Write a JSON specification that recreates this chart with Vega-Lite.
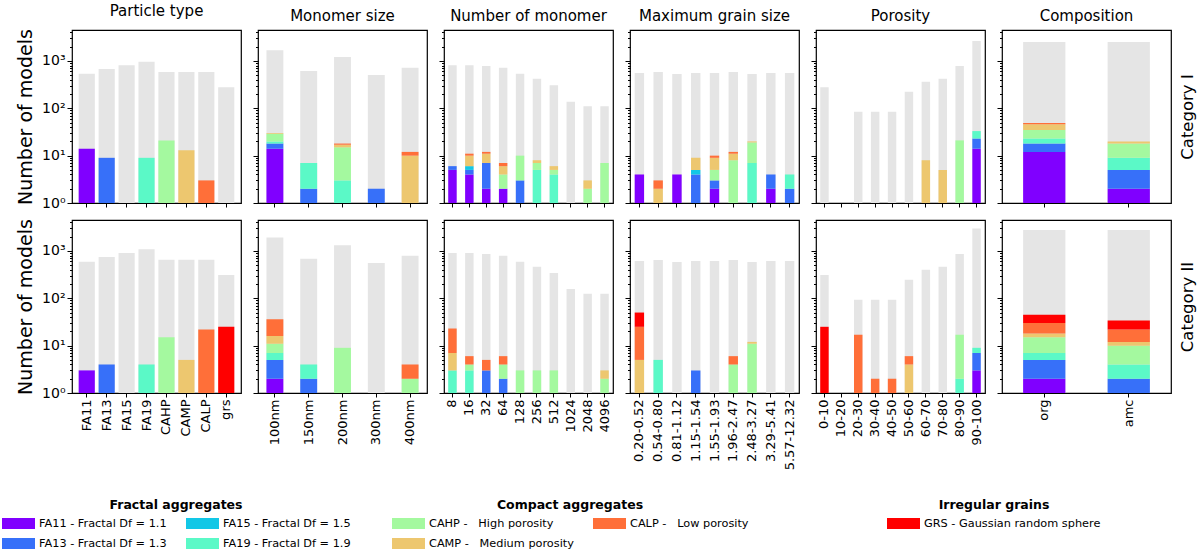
{
"$schema":"https://vega.github.io/schema/vega-lite/v6.json",
"autosize":{"type":"pad"},
"padding":{"left":2,"top":3,"right":2,"bottom":2},
"columns":6,
"spacing":17,
"bounds":"flush",
"resolve":{"scale":{"x":"independent","y":"independent","color":"independent"}},
"datasets":{
"types":[{"t":"FA11","k":1},{"t":"FA13","k":2},{"t":"FA15","k":3},{"t":"FA19","k":4},{"t":"CAHP","k":5},{"t":"CAMP","k":6},{"t":"CALP","k":7},{"t":"GRS","k":8}],
"tot":[
{"c":"I","p":"pt","x":"FA11","n":538},{"c":"I","p":"pt","x":"FA13","n":676},{"c":"I","p":"pt","x":"FA15","n":809},{"c":"I","p":"pt","x":"FA19","n":966},{"c":"I","p":"pt","x":"CAHP","n":584},{"c":"I","p":"pt","x":"CAMP","n":584},{"c":"I","p":"pt","x":"CALP","n":584},{"c":"I","p":"pt","x":"grs","n":277},
{"c":"I","p":"ms","x":"100nm","n":1680},{"c":"I","p":"ms","x":"150nm","n":613},{"c":"I","p":"ms","x":"200nm","n":1213},{"c":"I","p":"ms","x":"300nm","n":505},{"c":"I","p":"ms","x":"400nm","n":721},
{"c":"I","p":"nm","x":"8","n":809},{"c":"I","p":"nm","x":"16","n":809},{"c":"I","p":"nm","x":"32","n":782},{"c":"I","p":"nm","x":"64","n":721},{"c":"I","p":"nm","x":"128","n":538},{"c":"I","p":"nm","x":"256","n":422},{"c":"I","p":"nm","x":"512","n":305},{"c":"I","p":"nm","x":"1024","n":137},{"c":"I","p":"nm","x":"2048","n":111},{"c":"I","p":"nm","x":"4096","n":111},
{"c":"I","p":"mg","x":"0.20-0.52","n":556},{"c":"I","p":"mg","x":"0.54-0.80","n":584},{"c":"I","p":"mg","x":"0.81-1.12","n":530},{"c":"I","p":"mg","x":"1.15-1.54","n":556},{"c":"I","p":"mg","x":"1.55-1.93","n":556},{"c":"I","p":"mg","x":"1.96-2.47","n":584},{"c":"I","p":"mg","x":"2.48-3.27","n":530},{"c":"I","p":"mg","x":"3.29-5.41","n":556},{"c":"I","p":"mg","x":"5.57-12.32","n":556},
{"c":"I","p":"po","x":"0-10","n":277},{"c":"I","p":"po","x":"20-30","n":85},{"c":"I","p":"po","x":"30-40","n":85},{"c":"I","p":"po","x":"40-50","n":85},{"c":"I","p":"po","x":"50-60","n":224},{"c":"I","p":"po","x":"60-70","n":365},{"c":"I","p":"po","x":"70-80","n":422},{"c":"I","p":"po","x":"80-90","n":782},{"c":"I","p":"po","x":"90-100","n":2650},
{"c":"I","p":"co","x":"org","n":2523},{"c":"I","p":"co","x":"amc","n":2523},
{"c":"II","p":"pt","x":"FA11","n":593},{"c":"II","p":"pt","x":"FA13","n":745},{"c":"II","p":"pt","x":"FA15","n":906},{"c":"II","p":"pt","x":"FA19","n":1083},{"c":"II","p":"pt","x":"CAHP","n":655},{"c":"II","p":"pt","x":"CAMP","n":655},{"c":"II","p":"pt","x":"CALP","n":655},{"c":"II","p":"pt","x":"grs","n":310},
{"c":"II","p":"ms","x":"100nm","n":1914},{"c":"II","p":"ms","x":"150nm","n":687},{"c":"II","p":"ms","x":"200nm","n":1316},{"c":"II","p":"ms","x":"300nm","n":556},{"c":"II","p":"ms","x":"400nm","n":795},
{"c":"II","p":"nm","x":"8","n":906},{"c":"II","p":"nm","x":"16","n":906},{"c":"II","p":"nm","x":"32","n":863},{"c":"II","p":"nm","x":"64","n":795},{"c":"II","p":"nm","x":"128","n":593},{"c":"II","p":"nm","x":"256","n":465},{"c":"II","p":"nm","x":"512","n":342},{"c":"II","p":"nm","x":"1024","n":157},{"c":"II","p":"nm","x":"2048","n":125},{"c":"II","p":"nm","x":"4096","n":125},
{"c":"II","p":"mg","x":"0.20-0.52","n":613},{"c":"II","p":"mg","x":"0.54-0.80","n":644},{"c":"II","p":"mg","x":"0.81-1.12","n":584},{"c":"II","p":"mg","x":"1.15-1.54","n":613},{"c":"II","p":"mg","x":"1.55-1.93","n":613},{"c":"II","p":"mg","x":"1.96-2.47","n":644},{"c":"II","p":"mg","x":"2.48-3.27","n":584},{"c":"II","p":"mg","x":"3.29-5.41","n":613},{"c":"II","p":"mg","x":"5.57-12.32","n":613},
{"c":"II","p":"po","x":"0-10","n":310},{"c":"II","p":"po","x":"20-30","n":93},{"c":"II","p":"po","x":"30-40","n":93},{"c":"II","p":"po","x":"40-50","n":93},{"c":"II","p":"po","x":"50-60","n":247},{"c":"II","p":"po","x":"60-70","n":402},{"c":"II","p":"po","x":"70-80","n":465},{"c":"II","p":"po","x":"80-90","n":863},{"c":"II","p":"po","x":"90-100","n":2966},
{"c":"II","p":"co","x":"org","n":2780},{"c":"II","p":"co","x":"amc","n":2780}
],
"sub":[
{"c":"I","p":"pt","x":"FA11","t":"FA11","n":14},{"c":"I","p":"pt","x":"FA13","t":"FA13","n":9},{"c":"I","p":"pt","x":"FA15","t":"FA15","n":1},{"c":"I","p":"pt","x":"FA19","t":"FA19","n":9},{"c":"I","p":"pt","x":"CAHP","t":"CAHP","n":21},{"c":"I","p":"pt","x":"CAMP","t":"CAMP","n":13},{"c":"I","p":"pt","x":"CALP","t":"CALP","n":3},
{"c":"I","p":"ms","x":"100nm","t":"FA11","n":14},{"c":"I","p":"ms","x":"100nm","t":"FA13","n":4},{"c":"I","p":"ms","x":"100nm","t":"FA19","n":2},{"c":"I","p":"ms","x":"100nm","t":"CAHP","n":9},{"c":"I","p":"ms","x":"100nm","t":"CAMP","n":1},
{"c":"I","p":"ms","x":"150nm","t":"FA13","n":2},{"c":"I","p":"ms","x":"150nm","t":"FA19","n":5},
{"c":"I","p":"ms","x":"200nm","t":"FA19","n":3},{"c":"I","p":"ms","x":"200nm","t":"CAHP","n":12},{"c":"I","p":"ms","x":"200nm","t":"CAMP","n":2},{"c":"I","p":"ms","x":"200nm","t":"CALP","n":1},
{"c":"I","p":"ms","x":"300nm","t":"FA13","n":2},
{"c":"I","p":"ms","x":"400nm","t":"CAMP","n":10},{"c":"I","p":"ms","x":"400nm","t":"CALP","n":2},
{"c":"I","p":"nm","x":"8","t":"FA11","n":5},{"c":"I","p":"nm","x":"8","t":"FA13","n":1},
{"c":"I","p":"nm","x":"16","t":"FA11","n":4},{"c":"I","p":"nm","x":"16","t":"FA13","n":1},{"c":"I","p":"nm","x":"16","t":"FA15","n":1},{"c":"I","p":"nm","x":"16","t":"CAMP","n":4},{"c":"I","p":"nm","x":"16","t":"CALP","n":1},
{"c":"I","p":"nm","x":"32","t":"FA11","n":2},{"c":"I","p":"nm","x":"32","t":"FA13","n":5},{"c":"I","p":"nm","x":"32","t":"CAMP","n":4},{"c":"I","p":"nm","x":"32","t":"CALP","n":1},
{"c":"I","p":"nm","x":"64","t":"FA11","n":2},{"c":"I","p":"nm","x":"64","t":"CAHP","n":2},{"c":"I","p":"nm","x":"64","t":"CAMP","n":2},{"c":"I","p":"nm","x":"64","t":"CALP","n":1},
{"c":"I","p":"nm","x":"128","t":"FA13","n":3},{"c":"I","p":"nm","x":"128","t":"CAHP","n":7},
{"c":"I","p":"nm","x":"256","t":"FA19","n":5},{"c":"I","p":"nm","x":"256","t":"CAHP","n":2},{"c":"I","p":"nm","x":"256","t":"CAMP","n":1},
{"c":"I","p":"nm","x":"512","t":"FA19","n":4},{"c":"I","p":"nm","x":"512","t":"CAHP","n":1},{"c":"I","p":"nm","x":"512","t":"CAMP","n":1},
{"c":"I","p":"nm","x":"2048","t":"CAHP","n":2},{"c":"I","p":"nm","x":"2048","t":"CAMP","n":1},
{"c":"I","p":"nm","x":"4096","t":"CAHP","n":7},
{"c":"I","p":"mg","x":"0.20-0.52","t":"FA11","n":4},
{"c":"I","p":"mg","x":"0.54-0.80","t":"CAMP","n":2},{"c":"I","p":"mg","x":"0.54-0.80","t":"CALP","n":1},
{"c":"I","p":"mg","x":"0.81-1.12","t":"FA11","n":4},
{"c":"I","p":"mg","x":"1.15-1.54","t":"FA13","n":4},{"c":"I","p":"mg","x":"1.15-1.54","t":"FA15","n":1},{"c":"I","p":"mg","x":"1.15-1.54","t":"CAMP","n":4},
{"c":"I","p":"mg","x":"1.55-1.93","t":"FA11","n":2},{"c":"I","p":"mg","x":"1.55-1.93","t":"FA13","n":1},{"c":"I","p":"mg","x":"1.55-1.93","t":"CAHP","n":2},{"c":"I","p":"mg","x":"1.55-1.93","t":"CAMP","n":4},{"c":"I","p":"mg","x":"1.55-1.93","t":"CALP","n":1},
{"c":"I","p":"mg","x":"1.96-2.47","t":"CAHP","n":8},{"c":"I","p":"mg","x":"1.96-2.47","t":"CAMP","n":3},{"c":"I","p":"mg","x":"1.96-2.47","t":"CALP","n":1},
{"c":"I","p":"mg","x":"2.48-3.27","t":"FA19","n":7},{"c":"I","p":"mg","x":"2.48-3.27","t":"CAHP","n":12},{"c":"I","p":"mg","x":"2.48-3.27","t":"CAMP","n":1},
{"c":"I","p":"mg","x":"3.29-5.41","t":"FA11","n":2},{"c":"I","p":"mg","x":"3.29-5.41","t":"FA13","n":2},
{"c":"I","p":"mg","x":"5.57-12.32","t":"FA13","n":2},{"c":"I","p":"mg","x":"5.57-12.32","t":"FA19","n":2},
{"c":"I","p":"po","x":"60-70","t":"CAMP","n":8},{"c":"I","p":"po","x":"70-80","t":"CAMP","n":5},{"c":"I","p":"po","x":"80-90","t":"CAHP","n":21},
{"c":"I","p":"po","x":"90-100","t":"FA11","n":14},{"c":"I","p":"po","x":"90-100","t":"FA13","n":9},{"c":"I","p":"po","x":"90-100","t":"FA19","n":10},
{"c":"I","p":"co","x":"org","t":"FA11","n":12},{"c":"I","p":"co","x":"org","t":"FA13","n":6},{"c":"I","p":"co","x":"org","t":"FA19","n":5},{"c":"I","p":"co","x":"org","t":"CAHP","n":12},{"c":"I","p":"co","x":"org","t":"CAMP","n":11},{"c":"I","p":"co","x":"org","t":"CALP","n":3},
{"c":"I","p":"co","x":"amc","t":"FA11","n":2},{"c":"I","p":"co","x":"amc","t":"FA13","n":3},{"c":"I","p":"co","x":"amc","t":"FA19","n":4},{"c":"I","p":"co","x":"amc","t":"CAHP","n":9},{"c":"I","p":"co","x":"amc","t":"CAMP","n":2},
{"c":"II","p":"pt","x":"FA11","t":"FA11","n":3},{"c":"II","p":"pt","x":"FA13","t":"FA13","n":4},{"c":"II","p":"pt","x":"FA19","t":"FA19","n":4},{"c":"II","p":"pt","x":"CAHP","t":"CAHP","n":15},{"c":"II","p":"pt","x":"CAMP","t":"CAMP","n":5},{"c":"II","p":"pt","x":"CALP","t":"CALP","n":22},{"c":"II","p":"pt","x":"grs","t":"GRS","n":25},
{"c":"II","p":"ms","x":"100nm","t":"FA11","n":2},{"c":"II","p":"ms","x":"100nm","t":"FA13","n":3},{"c":"II","p":"ms","x":"100nm","t":"FA19","n":2},{"c":"II","p":"ms","x":"100nm","t":"CAHP","n":4},{"c":"II","p":"ms","x":"100nm","t":"CAMP","n":5},{"c":"II","p":"ms","x":"100nm","t":"CALP","n":20},
{"c":"II","p":"ms","x":"150nm","t":"FA13","n":2},{"c":"II","p":"ms","x":"150nm","t":"FA19","n":2},
{"c":"II","p":"ms","x":"200nm","t":"CAHP","n":9},
{"c":"II","p":"ms","x":"400nm","t":"CAHP","n":2},{"c":"II","p":"ms","x":"400nm","t":"CALP","n":2},
{"c":"II","p":"nm","x":"8","t":"FA19","n":3},{"c":"II","p":"nm","x":"8","t":"CAMP","n":4},{"c":"II","p":"nm","x":"8","t":"CALP","n":16},
{"c":"II","p":"nm","x":"16","t":"FA19","n":3},{"c":"II","p":"nm","x":"16","t":"CAHP","n":1},{"c":"II","p":"nm","x":"16","t":"CALP","n":2},
{"c":"II","p":"nm","x":"32","t":"FA13","n":3},{"c":"II","p":"nm","x":"32","t":"CALP","n":2},
{"c":"II","p":"nm","x":"64","t":"FA13","n":2},{"c":"II","p":"nm","x":"64","t":"CAHP","n":2},{"c":"II","p":"nm","x":"64","t":"CALP","n":2},
{"c":"II","p":"nm","x":"128","t":"CAHP","n":3},{"c":"II","p":"nm","x":"256","t":"CAHP","n":3},{"c":"II","p":"nm","x":"512","t":"CAHP","n":3},
{"c":"II","p":"nm","x":"4096","t":"CAHP","n":2},{"c":"II","p":"nm","x":"4096","t":"CAMP","n":1},
{"c":"II","p":"mg","x":"0.20-0.52","t":"CAMP","n":5},{"c":"II","p":"mg","x":"0.20-0.52","t":"CALP","n":20},{"c":"II","p":"mg","x":"0.20-0.52","t":"GRS","n":25},
{"c":"II","p":"mg","x":"0.54-0.80","t":"FA19","n":5},
{"c":"II","p":"mg","x":"1.15-1.54","t":"FA13","n":3},
{"c":"II","p":"mg","x":"1.96-2.47","t":"CAHP","n":4},{"c":"II","p":"mg","x":"1.96-2.47","t":"CALP","n":2},
{"c":"II","p":"mg","x":"2.48-3.27","t":"CAHP","n":11},{"c":"II","p":"mg","x":"2.48-3.27","t":"CAMP","n":1},
{"c":"II","p":"po","x":"0-10","t":"GRS","n":25},{"c":"II","p":"po","x":"20-30","t":"CALP","n":17},{"c":"II","p":"po","x":"30-40","t":"CALP","n":2},{"c":"II","p":"po","x":"40-50","t":"CALP","n":2},
{"c":"II","p":"po","x":"50-60","t":"CAMP","n":4},{"c":"II","p":"po","x":"50-60","t":"CALP","n":2},
{"c":"II","p":"po","x":"80-90","t":"FA19","n":2},{"c":"II","p":"po","x":"80-90","t":"CAHP","n":15},
{"c":"II","p":"po","x":"90-100","t":"FA11","n":3},{"c":"II","p":"po","x":"90-100","t":"FA13","n":4},{"c":"II","p":"po","x":"90-100","t":"FA19","n":2},
{"c":"II","p":"co","x":"org","t":"FA11","n":2},{"c":"II","p":"co","x":"org","t":"FA13","n":3},{"c":"II","p":"co","x":"org","t":"FA19","n":2},{"c":"II","p":"co","x":"org","t":"CAHP","n":8},{"c":"II","p":"co","x":"org","t":"CAMP","n":3},{"c":"II","p":"co","x":"org","t":"CALP","n":12},{"c":"II","p":"co","x":"org","t":"GRS","n":15},
{"c":"II","p":"co","x":"amc","t":"FA11","n":1},{"c":"II","p":"co","x":"amc","t":"FA13","n":1},{"c":"II","p":"co","x":"amc","t":"FA19","n":2},{"c":"II","p":"co","x":"amc","t":"CAHP","n":6},{"c":"II","p":"co","x":"amc","t":"CAMP","n":2},{"c":"II","p":"co","x":"amc","t":"CALP","n":10},{"c":"II","p":"co","x":"amc","t":"GRS","n":12}
]
},
"concat":[
{"width":169,"height":173,"title":"Particle type",
 "encoding":{"x":{"field":"x","type":"nominal","scale":{"domain":["FA11","FA13","FA15","FA19","CAHP","CAMP","CALP","grs"],"paddingInner":0.19,"paddingOuter":0.335},"axis":{"title":null,"labels":false}},
  "y":{"field":"n","type":"quantitative","scale":{"type":"log","domain":[1,4500],"clamp":true,"nice":false},"axis":{"title":"Number of models","titleFontSize":19,"titlePadding":6,"values":[1,2,3,4,5,6,7,8,9,10,20,30,40,50,60,70,80,90,100,200,300,400,500,600,700,800,900,1000,2000,3000,4000],"labelExpr":"datum.value==1?'10⁰':datum.value==10?'10¹':datum.value==100?'10²':datum.value==1000?'10³':''","labelOverlap":false,"tickSize":{"condition":{"test":"datum.value==1||datum.value==10||datum.value==100||datum.value==1000","value":5},"value":2.5}}}},
 "layer":[
  {"data":{"name":"tot"},"transform":[{"filter":"datum.c=='I'&&datum.p=='pt'"}],"mark":{"type":"bar","color":"#e5e5e5"}},
  {"data":{"name":"sub"},"transform":[{"filter":"datum.c=='I'&&datum.p=='pt'"},{"lookup":"t","from":{"data":{"name":"types"},"key":"t","fields":["k"]}}],"mark":{"type":"bar"},
   "encoding":{"color":{"field":"t","type":"nominal","scale":{"domain":["FA11","FA13","FA15","FA19","CAHP","CAMP","CALP","GRS"],"range":["#8000ff","#3770f9","#12c7e6","#5bf9c7","#a4f99f","#edc76f","#ff6f39","#ff0000"]},"legend":null},"order":{"field":"k","type":"quantitative"}}}
 ]},
{"width":169,"height":173,"title":"Monomer size",
 "encoding":{"x":{"field":"x","type":"nominal","scale":{"domain":["100nm","150nm","200nm","300nm","400nm"],"paddingInner":0.5,"paddingOuter":0.25},"axis":{"title":null,"labels":false}},
  "y":{"field":"n","type":"quantitative","scale":{"type":"log","domain":[1,4500],"clamp":true,"nice":false},"axis":{"title":null,"labels":false,"values":[1,2,3,4,5,6,7,8,9,10,20,30,40,50,60,70,80,90,100,200,300,400,500,600,700,800,900,1000,2000,3000,4000],"tickSize":{"condition":{"test":"datum.value==1||datum.value==10||datum.value==100||datum.value==1000","value":5},"value":2.5}}}},
 "layer":[
  {"data":{"name":"tot"},"transform":[{"filter":"datum.c=='I'&&datum.p=='ms'"}],"mark":{"type":"bar","color":"#e5e5e5"}},
  {"data":{"name":"sub"},"transform":[{"filter":"datum.c=='I'&&datum.p=='ms'"},{"lookup":"t","from":{"data":{"name":"types"},"key":"t","fields":["k"]}}],"mark":{"type":"bar"},
   "encoding":{"color":{"field":"t","type":"nominal","scale":{"domain":["FA11","FA13","FA15","FA19","CAHP","CAMP","CALP","GRS"],"range":["#8000ff","#3770f9","#12c7e6","#5bf9c7","#a4f99f","#edc76f","#ff6f39","#ff0000"]},"legend":null},"order":{"field":"k","type":"quantitative"}}}
 ]},
{"width":169,"height":173,"title":"Number of monomer",
 "encoding":{"x":{"field":"x","type":"nominal","scale":{"domain":["8","16","32","64","128","256","512","1024","2048","4096"],"paddingInner":0.5,"paddingOuter":0.25},"axis":{"title":null,"labels":false}},
  "y":{"field":"n","type":"quantitative","scale":{"type":"log","domain":[1,4500],"clamp":true,"nice":false},"axis":{"title":null,"labels":false,"values":[1,2,3,4,5,6,7,8,9,10,20,30,40,50,60,70,80,90,100,200,300,400,500,600,700,800,900,1000,2000,3000,4000],"tickSize":{"condition":{"test":"datum.value==1||datum.value==10||datum.value==100||datum.value==1000","value":5},"value":2.5}}}},
 "layer":[
  {"data":{"name":"tot"},"transform":[{"filter":"datum.c=='I'&&datum.p=='nm'"}],"mark":{"type":"bar","color":"#e5e5e5"}},
  {"data":{"name":"sub"},"transform":[{"filter":"datum.c=='I'&&datum.p=='nm'"},{"lookup":"t","from":{"data":{"name":"types"},"key":"t","fields":["k"]}}],"mark":{"type":"bar"},
   "encoding":{"color":{"field":"t","type":"nominal","scale":{"domain":["FA11","FA13","FA15","FA19","CAHP","CAMP","CALP","GRS"],"range":["#8000ff","#3770f9","#12c7e6","#5bf9c7","#a4f99f","#edc76f","#ff6f39","#ff0000"]},"legend":null},"order":{"field":"k","type":"quantitative"}}}
 ]},
{"width":169,"height":173,"title":"Maximum grain size",
 "encoding":{"x":{"field":"x","type":"nominal","scale":{"domain":["0.20-0.52","0.54-0.80","0.81-1.12","1.15-1.54","1.55-1.93","1.96-2.47","2.48-3.27","3.29-5.41","5.57-12.32"],"paddingInner":0.5,"paddingOuter":0.25},"axis":{"title":null,"labels":false}},
  "y":{"field":"n","type":"quantitative","scale":{"type":"log","domain":[1,4500],"clamp":true,"nice":false},"axis":{"title":null,"labels":false,"values":[1,2,3,4,5,6,7,8,9,10,20,30,40,50,60,70,80,90,100,200,300,400,500,600,700,800,900,1000,2000,3000,4000],"tickSize":{"condition":{"test":"datum.value==1||datum.value==10||datum.value==100||datum.value==1000","value":5},"value":2.5}}}},
 "layer":[
  {"data":{"name":"tot"},"transform":[{"filter":"datum.c=='I'&&datum.p=='mg'"}],"mark":{"type":"bar","color":"#e5e5e5"}},
  {"data":{"name":"sub"},"transform":[{"filter":"datum.c=='I'&&datum.p=='mg'"},{"lookup":"t","from":{"data":{"name":"types"},"key":"t","fields":["k"]}}],"mark":{"type":"bar"},
   "encoding":{"color":{"field":"t","type":"nominal","scale":{"domain":["FA11","FA13","FA15","FA19","CAHP","CAMP","CALP","GRS"],"range":["#8000ff","#3770f9","#12c7e6","#5bf9c7","#a4f99f","#edc76f","#ff6f39","#ff0000"]},"legend":null},"order":{"field":"k","type":"quantitative"}}}
 ]},
{"width":169,"height":173,"title":"Porosity",
 "encoding":{"x":{"field":"x","type":"nominal","scale":{"domain":["0-10","10-20","20-30","30-40","40-50","50-60","60-70","70-80","80-90","90-100"],"paddingInner":0.5,"paddingOuter":0.25},"axis":{"title":null,"labels":false}},
  "y":{"field":"n","type":"quantitative","scale":{"type":"log","domain":[1,4500],"clamp":true,"nice":false},"axis":{"title":null,"labels":false,"values":[1,2,3,4,5,6,7,8,9,10,20,30,40,50,60,70,80,90,100,200,300,400,500,600,700,800,900,1000,2000,3000,4000],"tickSize":{"condition":{"test":"datum.value==1||datum.value==10||datum.value==100||datum.value==1000","value":5},"value":2.5}}}},
 "layer":[
  {"data":{"name":"tot"},"transform":[{"filter":"datum.c=='I'&&datum.p=='po'"}],"mark":{"type":"bar","color":"#e5e5e5"}},
  {"data":{"name":"sub"},"transform":[{"filter":"datum.c=='I'&&datum.p=='po'"},{"lookup":"t","from":{"data":{"name":"types"},"key":"t","fields":["k"]}}],"mark":{"type":"bar"},
   "encoding":{"color":{"field":"t","type":"nominal","scale":{"domain":["FA11","FA13","FA15","FA19","CAHP","CAMP","CALP","GRS"],"range":["#8000ff","#3770f9","#12c7e6","#5bf9c7","#a4f99f","#edc76f","#ff6f39","#ff0000"]},"legend":null},"order":{"field":"k","type":"quantitative"}}}
 ]},
{"width":169,"height":173,"title":"Composition",
 "encoding":{"x":{"field":"x","type":"nominal","scale":{"domain":["org","amc"],"paddingInner":0.5,"paddingOuter":0.25},"axis":{"title":null,"labels":false}}},
 "layer":[
  {"data":{"name":"tot"},"transform":[{"filter":"datum.c=='I'&&datum.p=='co'"}],"mark":{"type":"bar","color":"#e5e5e5"},
   "encoding":{"y":{"field":"n","type":"quantitative","scale":{"type":"log","domain":[1,4500],"clamp":true,"nice":false},"axis":{"title":null,"labels":false,"values":[1,2,3,4,5,6,7,8,9,10,20,30,40,50,60,70,80,90,100,200,300,400,500,600,700,800,900,1000,2000,3000,4000],"tickSize":{"condition":{"test":"datum.value==1||datum.value==10||datum.value==100||datum.value==1000","value":5},"value":2.5}}}}},
  {"data":{"name":"sub"},"transform":[{"filter":"datum.c=='I'&&datum.p=='co'"},{"lookup":"t","from":{"data":{"name":"types"},"key":"t","fields":["k"]}}],"mark":{"type":"bar"},
   "encoding":{"y":{"field":"n","type":"quantitative","axis":{"orient":"right","title":"Category I","labels":false,"ticks":false,"domain":false,"titleAngle":270,"titleBaseline":"top","titlePadding":8,"titleFontSize":16.5}},
    "color":{"field":"t","type":"nominal","scale":{"domain":["FA11","FA13","FA15","FA19","CAHP","CAMP","CALP","GRS"],"range":["#8000ff","#3770f9","#12c7e6","#5bf9c7","#a4f99f","#edc76f","#ff6f39","#ff0000"]},"legend":null},"order":{"field":"k","type":"quantitative"}}}
 ],
 "resolve":{"axis":{"y":"independent"}}},
{"width":169,"height":173,
 "encoding":{"x":{"field":"x","type":"nominal","scale":{"domain":["FA11","FA13","FA15","FA19","CAHP","CAMP","CALP","grs"],"paddingInner":0.19,"paddingOuter":0.335},"axis":{"title":null}},
  "y":{"field":"n","type":"quantitative","scale":{"type":"log","domain":[1,4500],"clamp":true,"nice":false},"axis":{"title":"Number of models","titleFontSize":19,"titlePadding":6,"values":[1,2,3,4,5,6,7,8,9,10,20,30,40,50,60,70,80,90,100,200,300,400,500,600,700,800,900,1000,2000,3000,4000],"labelExpr":"datum.value==1?'10⁰':datum.value==10?'10¹':datum.value==100?'10²':datum.value==1000?'10³':''","labelOverlap":false,"tickSize":{"condition":{"test":"datum.value==1||datum.value==10||datum.value==100||datum.value==1000","value":5},"value":2.5}}}},
 "layer":[
  {"data":{"name":"tot"},"transform":[{"filter":"datum.c=='II'&&datum.p=='pt'"}],"mark":{"type":"bar","color":"#e5e5e5"}},
  {"data":{"name":"sub"},"transform":[{"filter":"datum.c=='II'&&datum.p=='pt'"},{"lookup":"t","from":{"data":{"name":"types"},"key":"t","fields":["k"]}}],"mark":{"type":"bar"},
   "encoding":{"color":{"field":"t","type":"nominal","scale":{"domain":["FA11","FA13","FA15","FA19","CAHP","CAMP","CALP","GRS"],"range":["#8000ff","#3770f9","#12c7e6","#5bf9c7","#a4f99f","#edc76f","#ff6f39","#ff0000"]},"legend":null},"order":{"field":"k","type":"quantitative"}}}
 ]},
{"width":169,"height":173,
 "encoding":{"x":{"field":"x","type":"nominal","scale":{"domain":["100nm","150nm","200nm","300nm","400nm"],"paddingInner":0.5,"paddingOuter":0.25},"axis":{"title":null}},
  "y":{"field":"n","type":"quantitative","scale":{"type":"log","domain":[1,4500],"clamp":true,"nice":false},"axis":{"title":null,"labels":false,"values":[1,2,3,4,5,6,7,8,9,10,20,30,40,50,60,70,80,90,100,200,300,400,500,600,700,800,900,1000,2000,3000,4000],"tickSize":{"condition":{"test":"datum.value==1||datum.value==10||datum.value==100||datum.value==1000","value":5},"value":2.5}}}},
 "layer":[
  {"data":{"name":"tot"},"transform":[{"filter":"datum.c=='II'&&datum.p=='ms'"}],"mark":{"type":"bar","color":"#e5e5e5"}},
  {"data":{"name":"sub"},"transform":[{"filter":"datum.c=='II'&&datum.p=='ms'"},{"lookup":"t","from":{"data":{"name":"types"},"key":"t","fields":["k"]}}],"mark":{"type":"bar"},
   "encoding":{"color":{"field":"t","type":"nominal","scale":{"domain":["FA11","FA13","FA15","FA19","CAHP","CAMP","CALP","GRS"],"range":["#8000ff","#3770f9","#12c7e6","#5bf9c7","#a4f99f","#edc76f","#ff6f39","#ff0000"]},"legend":null},"order":{"field":"k","type":"quantitative"}}}
 ]},
{"width":169,"height":173,
 "encoding":{"x":{"field":"x","type":"nominal","scale":{"domain":["8","16","32","64","128","256","512","1024","2048","4096"],"paddingInner":0.5,"paddingOuter":0.25},"axis":{"title":null}},
  "y":{"field":"n","type":"quantitative","scale":{"type":"log","domain":[1,4500],"clamp":true,"nice":false},"axis":{"title":null,"labels":false,"values":[1,2,3,4,5,6,7,8,9,10,20,30,40,50,60,70,80,90,100,200,300,400,500,600,700,800,900,1000,2000,3000,4000],"tickSize":{"condition":{"test":"datum.value==1||datum.value==10||datum.value==100||datum.value==1000","value":5},"value":2.5}}}},
 "layer":[
  {"data":{"name":"tot"},"transform":[{"filter":"datum.c=='II'&&datum.p=='nm'"}],"mark":{"type":"bar","color":"#e5e5e5"}},
  {"data":{"name":"sub"},"transform":[{"filter":"datum.c=='II'&&datum.p=='nm'"},{"lookup":"t","from":{"data":{"name":"types"},"key":"t","fields":["k"]}}],"mark":{"type":"bar"},
   "encoding":{"color":{"field":"t","type":"nominal","scale":{"domain":["FA11","FA13","FA15","FA19","CAHP","CAMP","CALP","GRS"],"range":["#8000ff","#3770f9","#12c7e6","#5bf9c7","#a4f99f","#edc76f","#ff6f39","#ff0000"]},"legend":null},"order":{"field":"k","type":"quantitative"}}}
 ]},
{"width":169,"height":173,
 "encoding":{"x":{"field":"x","type":"nominal","scale":{"domain":["0.20-0.52","0.54-0.80","0.81-1.12","1.15-1.54","1.55-1.93","1.96-2.47","2.48-3.27","3.29-5.41","5.57-12.32"],"paddingInner":0.5,"paddingOuter":0.25},"axis":{"title":null}},
  "y":{"field":"n","type":"quantitative","scale":{"type":"log","domain":[1,4500],"clamp":true,"nice":false},"axis":{"title":null,"labels":false,"values":[1,2,3,4,5,6,7,8,9,10,20,30,40,50,60,70,80,90,100,200,300,400,500,600,700,800,900,1000,2000,3000,4000],"tickSize":{"condition":{"test":"datum.value==1||datum.value==10||datum.value==100||datum.value==1000","value":5},"value":2.5}}}},
 "layer":[
  {"data":{"name":"tot"},"transform":[{"filter":"datum.c=='II'&&datum.p=='mg'"}],"mark":{"type":"bar","color":"#e5e5e5"}},
  {"data":{"name":"sub"},"transform":[{"filter":"datum.c=='II'&&datum.p=='mg'"},{"lookup":"t","from":{"data":{"name":"types"},"key":"t","fields":["k"]}}],"mark":{"type":"bar"},
   "encoding":{"color":{"field":"t","type":"nominal","scale":{"domain":["FA11","FA13","FA15","FA19","CAHP","CAMP","CALP","GRS"],"range":["#8000ff","#3770f9","#12c7e6","#5bf9c7","#a4f99f","#edc76f","#ff6f39","#ff0000"]},"legend":null},"order":{"field":"k","type":"quantitative"}}}
 ]},
{"width":169,"height":173,
 "encoding":{"x":{"field":"x","type":"nominal","scale":{"domain":["0-10","10-20","20-30","30-40","40-50","50-60","60-70","70-80","80-90","90-100"],"paddingInner":0.5,"paddingOuter":0.25},"axis":{"title":null}},
  "y":{"field":"n","type":"quantitative","scale":{"type":"log","domain":[1,4500],"clamp":true,"nice":false},"axis":{"title":null,"labels":false,"values":[1,2,3,4,5,6,7,8,9,10,20,30,40,50,60,70,80,90,100,200,300,400,500,600,700,800,900,1000,2000,3000,4000],"tickSize":{"condition":{"test":"datum.value==1||datum.value==10||datum.value==100||datum.value==1000","value":5},"value":2.5}}}},
 "layer":[
  {"data":{"name":"tot"},"transform":[{"filter":"datum.c=='II'&&datum.p=='po'"}],"mark":{"type":"bar","color":"#e5e5e5"}},
  {"data":{"name":"sub"},"transform":[{"filter":"datum.c=='II'&&datum.p=='po'"},{"lookup":"t","from":{"data":{"name":"types"},"key":"t","fields":["k"]}}],"mark":{"type":"bar"},
   "encoding":{"color":{"field":"t","type":"nominal","scale":{"domain":["FA11","FA13","FA15","FA19","CAHP","CAMP","CALP","GRS"],"range":["#8000ff","#3770f9","#12c7e6","#5bf9c7","#a4f99f","#edc76f","#ff6f39","#ff0000"]},"legend":null},"order":{"field":"k","type":"quantitative"}}}
 ]},
{"width":169,"height":173,
 "encoding":{"x":{"field":"x","type":"nominal","scale":{"domain":["org","amc"],"paddingInner":0.5,"paddingOuter":0.25},"axis":{"title":null}}},
 "layer":[
  {"data":{"name":"tot"},"transform":[{"filter":"datum.c=='II'&&datum.p=='co'"}],"mark":{"type":"bar","color":"#e5e5e5"},
   "encoding":{"y":{"field":"n","type":"quantitative","scale":{"type":"log","domain":[1,4500],"clamp":true,"nice":false},"axis":{"title":null,"labels":false,"values":[1,2,3,4,5,6,7,8,9,10,20,30,40,50,60,70,80,90,100,200,300,400,500,600,700,800,900,1000,2000,3000,4000],"tickSize":{"condition":{"test":"datum.value==1||datum.value==10||datum.value==100||datum.value==1000","value":5},"value":2.5}}}}},
  {"data":{"name":"sub"},"transform":[{"filter":"datum.c=='II'&&datum.p=='co'"},{"lookup":"t","from":{"data":{"name":"types"},"key":"t","fields":["k"]}}],"mark":{"type":"bar"},
   "encoding":{"y":{"field":"n","type":"quantitative","axis":{"orient":"right","title":"Category II","labels":false,"ticks":false,"domain":false,"titleAngle":270,"titleBaseline":"top","titlePadding":8,"titleFontSize":16.5}},
    "color":{"field":"t","type":"nominal","scale":{"domain":["FA11","FA13","FA15","FA19","CAHP","CAMP","CALP","GRS"],"range":["#8000ff","#3770f9","#12c7e6","#5bf9c7","#a4f99f","#edc76f","#ff6f39","#ff0000"]},"legend":null},"order":{"field":"k","type":"quantitative"}}}
 ],
 "resolve":{"axis":{"y":"independent"}}},
{"width":169,"height":10,"view":{"stroke":null},
 "layer":[
  {"data":{"values":[{"f":"FA11 - Fractal Df = 1.1"},{"f":"FA13 - Fractal Df = 1.3"},{"f":"FA15 - Fractal Df = 1.5"},{"f":"FA19 - Fractal Df = 1.9"}]},
   "mark":{"type":"text","text":""},
   "encoding":{"color":{"field":"f","type":"nominal","scale":{"domain":["FA11 - Fractal Df = 1.1","FA13 - Fractal Df = 1.3","FA15 - Fractal Df = 1.5","FA19 - Fractal Df = 1.9"],"range":["#8000ff","#3770f9","#12c7e6","#5bf9c7"]},
    "legend":{"title":"Fractal aggregates","orient":"none","legendX":-70,"legendY":89,"columns":2,"symbolType":"M-1,-0.34H1V0.34H-1Z"}}}},
  {"data":{"values":[{"f":"CAHP -\u00a0\u00a0\u00a0High porosity"},{"f":"CAMP -\u00a0\u00a0\u00a0Medium porosity"},{"f":"CALP -\u00a0\u00a0\u00a0Low porosity"}]},
   "mark":{"type":"text","text":""},
   "encoding":{"color":{"field":"f","type":"nominal","scale":{"domain":["CAHP -\u00a0\u00a0\u00a0High porosity","CAMP -\u00a0\u00a0\u00a0Medium porosity","CALP -\u00a0\u00a0\u00a0Low porosity"],"range":["#a4f99f","#edc76f","#ff6f39"]},
    "legend":{"title":"Compact aggregates","orient":"none","legendX":320,"legendY":89,"columns":2,"symbolType":"M-1,-0.34H1V0.34H-1Z"}}}},
  {"data":{"values":[{"f":"GRS - Gaussian random sphere"}]},
   "mark":{"type":"text","text":""},
   "encoding":{"color":{"field":"f","type":"nominal","scale":{"domain":["GRS - Gaussian random sphere"],"range":["#ff0000"]},
    "legend":{"title":"Irregular grains","orient":"none","legendX":815,"legendY":89,"columns":1,"symbolType":"M-1,-0.34H1V0.34H-1Z"}}}}
 ],
 "resolve":{"scale":{"color":"independent"},"legend":{"color":"independent"}}}
],
"config":{
 "font":"DejaVu Sans",
 "view":{"stroke":"#000","strokeWidth":1.2},
 "axis":{"domain":false,"grid":false,"tickColor":"#000","tickWidth":1,"labelColor":"#000","titleColor":"#000","labelFont":"DejaVu Sans","titleFont":"DejaVu Sans","titleFontWeight":"normal"},
 "axisX":{"tickSize":4,"labelFontSize":13,"labelAngle":-90,"labelPadding":2},
 "axisY":{"labelFontSize":14,"labelPadding":2},
 "title":{"fontSize":15,"fontWeight":"normal","font":"DejaVu Sans","color":"#000","offset":6},
 "legend":{"symbolSize":1089,"symbolStrokeWidth":0,"symbolOpacity":1,"labelFontSize":11.3,"labelFont":"DejaVu Sans","titleFont":"DejaVu Sans","titleFontSize":12.5,"titleFontWeight":"bold","titleColor":"#000","labelColor":"#000","titleAnchor":"middle","clipHeight":12,"rowPadding":8,"columnPadding":19,"labelOffset":4,"titlePadding":6,"labelLimit":400,"padding":0}
}
}
